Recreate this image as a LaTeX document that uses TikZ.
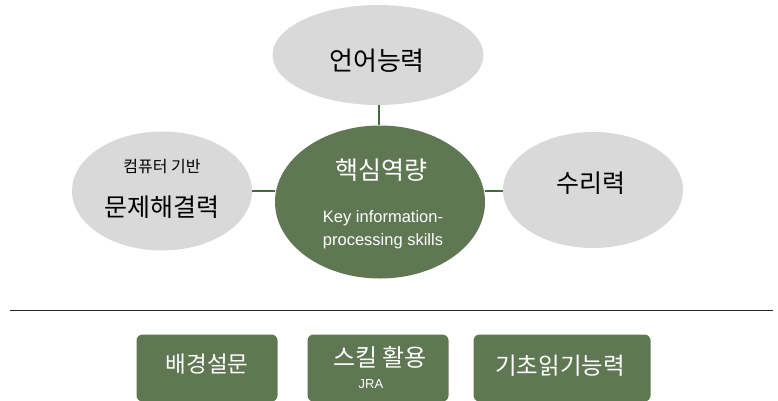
\documentclass[tikz,border=0pt]{standalone}
\usepackage{fontspec}
\setmainfont{Liberation Sans}
\newfontfamily\kr{Noto Sans CJK KR}
\usetikzlibrary{shapes.geometric}
\definecolor{skillgreen}{RGB}{95,119,82}
\definecolor{linkgreen}{RGB}{70,105,68}
\definecolor{softgray}{RGB}{217,217,217}
\tikzset{
  grayoval/.style={ellipse, fill=softgray, draw=none, inner sep=0pt},
  greenoval/.style={ellipse, fill=skillgreen, draw=none, inner sep=0pt},
  link/.style={draw=linkgreen, line width=1.6pt},
  greenbox/.style={rectangle, rounded corners=6pt, fill=skillgreen, draw=none,
    minimum width=141pt, minimum height=67pt, inner sep=0pt},
  krtext/.style={font=\kr\fontsize{#1}{#1}\selectfont, inner sep=0pt},
  wtext/.style={text=white, inner sep=0pt},
}
\begin{document}
\begin{tikzpicture}[x=1pt,y=-1pt]
\useasboundingbox (0,0) rectangle (778,400);

% competency ovals
\node[grayoval, minimum width=211pt, minimum height=100pt] (lang) at (378,55) {};
\node[grayoval, minimum width=180pt, minimum height=119pt] (prob) at (162,191) {};
\node[grayoval, minimum width=180pt, minimum height=116pt] (num) at (593,190) {};
\node[greenoval, minimum width=210pt, minimum height=153pt] (core) at (380,202) {};

% connectors to the core oval
\draw[link] (lang.south -| 379,0) -- (core.north -| 379,0);
\draw[link] (prob.east |- 0,191) -- (core.west |- 0,191);
\draw[link] (core.east |- 0,191) -- (num.west |- 0,191);

% oval labels
\node[krtext=26pt] (langlbl) at (377,61) {언어능력};
\node[krtext=16pt] (problbl1) at (162,167) {컴퓨터 기반};
\node[krtext=25pt] (problbl2) at (162,207) {문제해결력};
\node[krtext=25pt] (numlbl) at (591,183) {수리력};
\node[krtext=25pt, text=white] (corelbl) at (381,170) {핵심역량};
\node[wtext, anchor=base, font=\fontsize{16.5pt}{24pt}\selectfont] (coreen1) at (383,222) {Key information-};
\node[wtext, anchor=base, font=\fontsize{16.5pt}{24pt}\selectfont] (coreen2) at (383,245) {processing skills};

% separator rule
\coordinate (ruleL) at (10,310);
\coordinate (ruleR) at (773,310);
\draw[black!85, line width=0.9pt] (ruleL) -- (ruleR);

% survey component boxes
\node[greenbox] (bg) at (207,368) {};
\node[greenbox] (jra) at (378,368) {};
\node[greenbox, minimum width=177pt] (read) at (562,368) {};
\node[krtext=22.5pt, text=white] (bglbl) at (207,364) {배경설문};
\node[krtext=24pt, text=white] (jralbl) at (380,357) {스킬 활용};
\node[wtext, font=\fontsize{13pt}{13pt}\selectfont] (jrasub) at (371,384) {JRA};
\node[krtext=23.5pt, text=white] (readlbl) at (560,366) {기초읽기능력};
\end{tikzpicture}
\end{document}
